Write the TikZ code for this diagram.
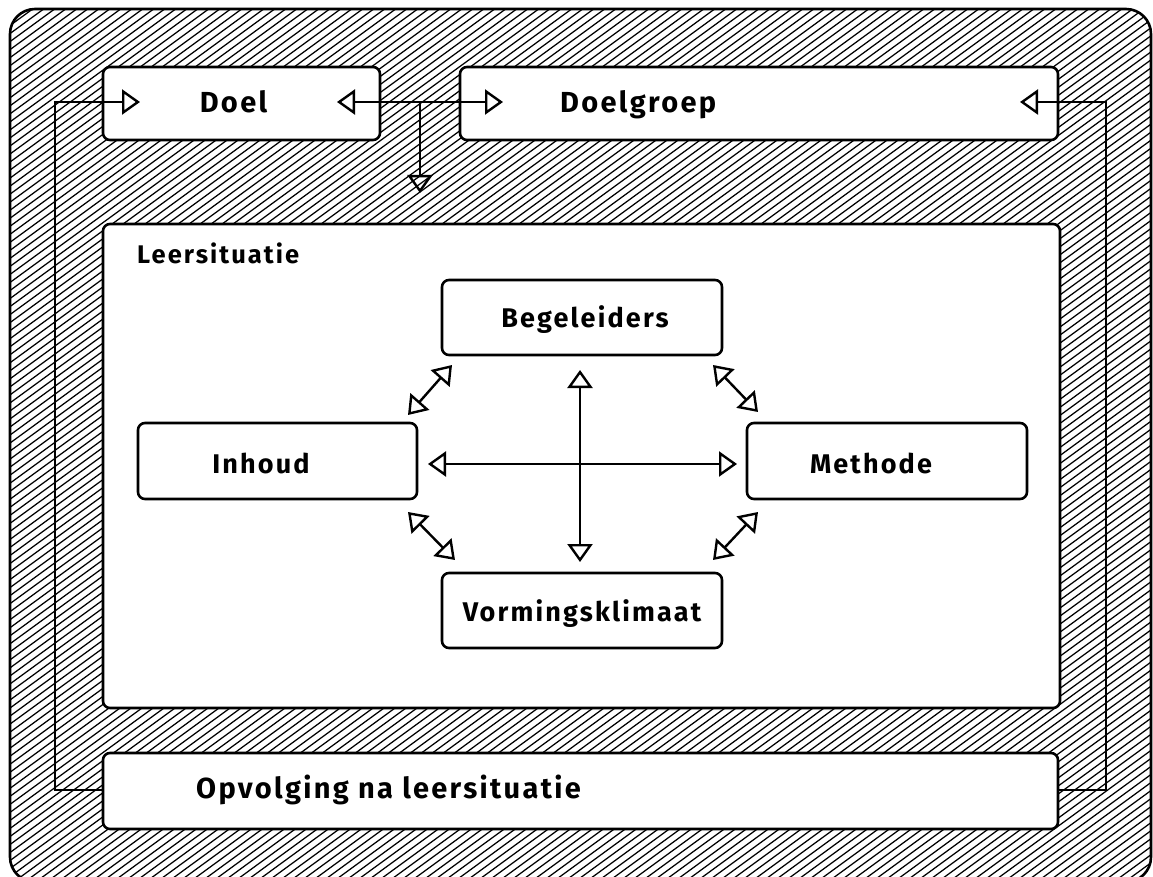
\documentclass[tikz,border=0pt]{standalone}
\usepackage{fontspec}
\setmainfont{Fira Sans}[LetterSpace=8]
\usetikzlibrary{arrows.meta,calc}
\tikzset{
  box/.style={draw, line width=2.6pt, rounded corners=7pt, fill=white, inner sep=0pt},
  lbl/.style={font=\fontsize{27}{30}\selectfont\bfseries, inner sep=0pt, anchor=base},
  biglbl/.style={lbl, font=\fontsize{29}{32}\selectfont\bfseries},
  smalllbl/.style={lbl, font=\fontsize{25.5}{30}\selectfont\bfseries},
  con/.style={line width=2.4pt},
  hatch/.style={line width=1.25pt},
  tip/.style={-{Triangle[open,length=18pt,width=25pt,line width=2.4pt]}},
  twotip/.style={{Triangle[open,length=18pt,width=25pt,line width=2.4pt]}-{Triangle[open,length=18pt,width=25pt,line width=2.4pt]}},
}
\begin{document}
\begin{tikzpicture}[x=1pt,y=-1pt]
\useasboundingbox (0,0) rectangle (1153,877);
% outer hatched frame
\begin{scope}
  \clip[rounded corners=25pt] (10,9) rectangle (1151,882);
  \foreach \i in {-115,...,108} {
    \draw[hatch] (\i*11,900) -- ++(1233,-900);
  }
\end{scope}
\draw[line width=2.6pt, rounded corners=25pt] (10,9) rectangle (1151,882);
% boxes
\node[box, minimum width=277pt, minimum height=73pt] (doel) at (241.5,103.5) {};
\node[box, minimum width=598pt, minimum height=73pt] (doelgroep) at (759,103.5) {};
\node[box, minimum width=957pt, minimum height=484pt] (leer) at (581.5,466) {};
\node[box, minimum width=955pt, minimum height=76pt] (opv) at (580.5,791) {};
\node[box, minimum width=280pt, minimum height=75pt] (beg) at (582,317.5) {};
\node[box, minimum width=279pt, minimum height=76pt] (inh) at (277.5,461) {};
\node[box, minimum width=280pt, minimum height=76pt] (met) at (887,461) {};
\node[box, minimum width=280pt, minimum height=75pt] (vorm) at (582,610.5) {};
% labels
\node[biglbl] (tdoel) at (233.5,113) {Doel};
\node[biglbl, anchor=base west] (tdoelgroep) at (560,113) {Doelgroep};
\node[biglbl, anchor=base west] (topv) at (196,798) {Opvolging na leersituatie};
\node[smalllbl, anchor=base west] (tleer) at (137,263) {Leersituatie};
\node[lbl] (tbeg) at (585,327) {Begeleiders};
\node[lbl] (tinh) at (261,473) {Inhoud};
\node[lbl] (tmet) at (871,473) {Methode};
\node[lbl] (tvorm) at (582,621) {Vormingsklimaat};
% coordinates for arrow tips and corners
\coordinate (doelin) at (140,102);
\coordinate (doelout) at (337,102);
\coordinate (dgin) at (503,102);
\coordinate (dgout) at (1020,102);
\coordinate (branch) at (420,102);
\coordinate (branchend) at (420,193);
\coordinate (lc) at (55,790);
\coordinate (rc) at (1106,102);
% outer connectors
\draw[con, tip] (opv.west |- lc) -- (lc) |- (doelin);
\draw[con, twotip] (doelout) -- (dgin);
\draw[con, tip] (branch) -- (branchend);
\draw[con, tip] (opv.east |- lc) -| (rc) -- (dgout);
% inner arrows
\coordinate (vt) at (580,370);
\coordinate (vb) at (580,562);
\coordinate (hl) at (428,464);
\coordinate (hr) at (737,464);
\draw[con, twotip] (vt) -- (vb);
\draw[con, twotip] (hl) -- (hr);
\coordinate (ul1) at (452,365); \coordinate (ul2) at (408,415);
\coordinate (ur1) at (713,365); \coordinate (ur2) at (758,412);
\coordinate (ll1) at (408,512); \coordinate (ll2) at (455,560);
\coordinate (lr1) at (758,512); \coordinate (lr2) at (713,560);
\draw[con, twotip] (ul1) -- (ul2);
\draw[con, twotip] (ur1) -- (ur2);
\draw[con, twotip] (ll1) -- (ll2);
\draw[con, twotip] (lr1) -- (lr2);
\end{tikzpicture}
\end{document}
